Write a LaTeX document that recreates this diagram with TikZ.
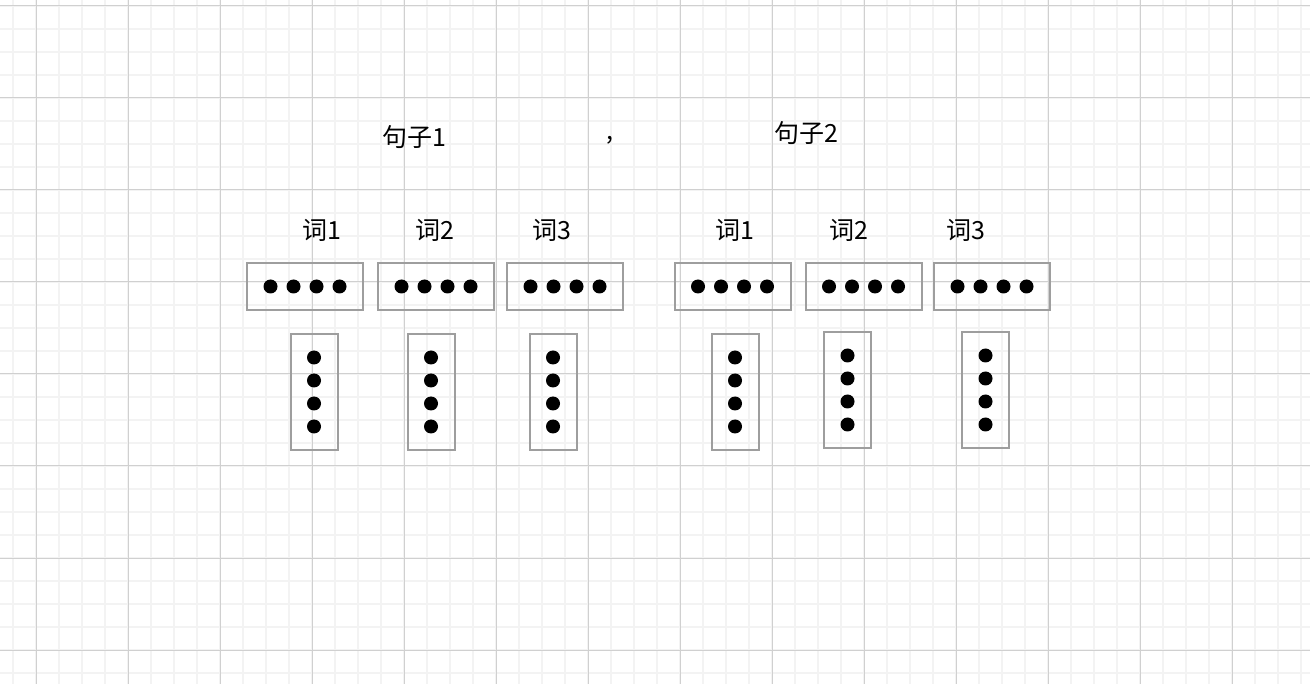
\documentclass[tikz,border=0pt]{standalone}
\usepackage{fontspec}
\setmainfont{Noto Sans CJK SC}
\usepackage{xcolor}
\usepackage{tikz}
\usetikzlibrary{positioning}
\definecolor{gMajor}{RGB}{208,208,208}
\definecolor{gMinor}{RGB}{243,243,243}
\definecolor{bGray}{RGB}{158,158,158}

\begin{document}
\begin{tikzpicture}[
    x=1pt, y=-1pt,
    font=\fontsize{25}{29}\selectfont,
    hbox/.style={draw=bGray, line width=2pt, minimum width=116pt, minimum height=47pt, inner sep=0pt},
    vbox/.style={draw=bGray, line width=2pt, minimum width=47pt, minimum height=116pt, inner sep=0pt},
    dot/.style={circle, fill=black, inner sep=0pt, minimum size=14pt},
    lbl/.style={inner sep=0pt}
]
  \useasboundingbox[fill=white] (0,0) rectangle (1310,684);

  % grid
  \foreach \x in {0,...,56} \draw[gMinor, line width=1.5pt] (13+23*\x,0) -- (13+23*\x,684);
  \foreach \y in {0,...,29} \draw[gMinor, line width=1.5pt] (0,6+23*\y) -- (1310,6+23*\y);
  \foreach \x in {0,...,13} \draw[gMajor, line width=1pt] (36+92*\x,0) -- (36+92*\x,684);
  \foreach \y in {0,...,7} \draw[gMajor, line width=1pt] (0,6+92*\y) -- (1310,6+92*\y);

  % sentence labels
  \node[lbl] (s1) at (414,137) {句子1};
  \node[lbl] (comma) at (610,140) {,};
  \node[lbl] (s2) at (806,133) {句子2};

  % horizontal word vectors
  \foreach \i/\x/\wx in {1/305/322, 2/436/435, 3/565/552, 4/732.5/735, 5/863.5/849, 6/992/966} {
    \node[hbox] (h\i) at (\x,286.5) {};
    \node[lbl] (w\i) at (\wx,230) {词\ifnum\i>3 \the\numexpr\i-3\relax\else\i\fi};
    \foreach \d [count=\j] in {-34.5,-11.5,11.5,34.5}
      \node[dot] (h\i-\j) at ([xshift=\d pt]h\i.center) {};
  }

  % vertical word vectors
  \foreach \i/\x/\y in {1/314/392, 2/431/392, 3/553/392, 4/735/392, 5/847.5/390, 6/985.5/390} {
    \node[vbox] (v\i) at (\x,\y) {};
    \foreach \d [count=\j] in {-34.5,-11.5,11.5,34.5}
      \node[dot] (v\i-\j) at ([yshift=-\d pt]v\i.center) {};
  }
\end{tikzpicture}
\end{document}
